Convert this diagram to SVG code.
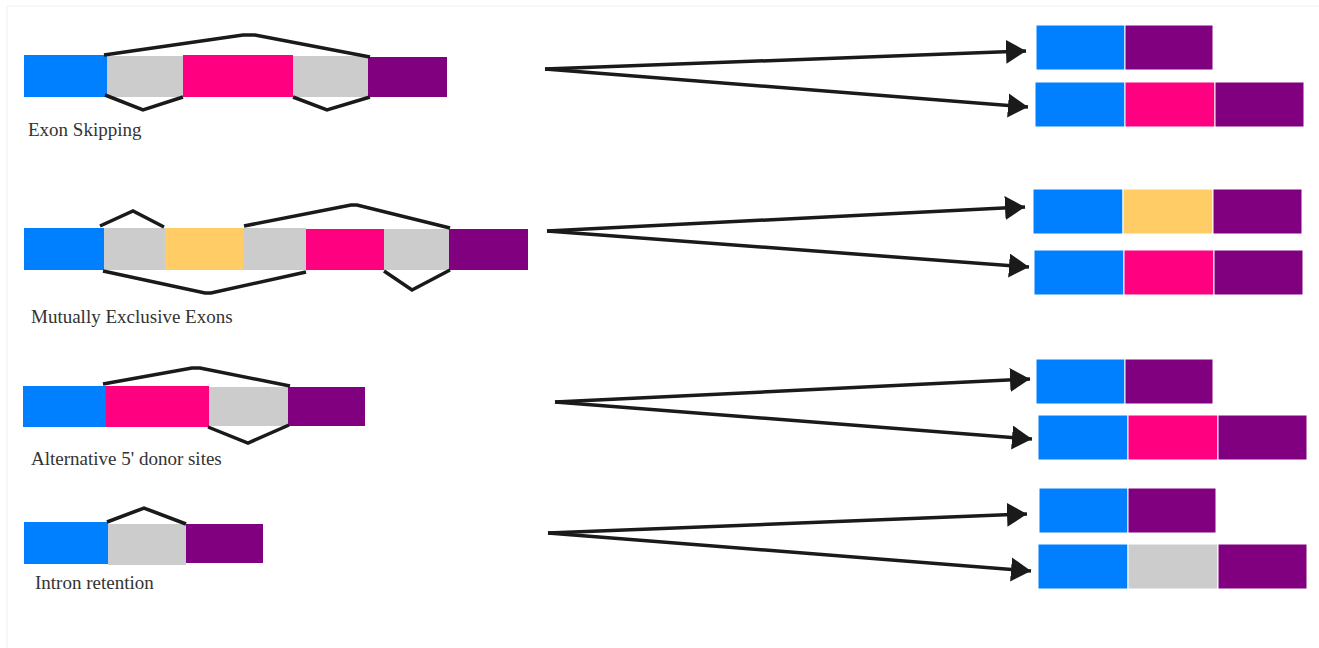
<svg xmlns="http://www.w3.org/2000/svg" width="1319" height="648" viewBox="0 0 1319 648">
<defs>
<style>
.b{fill:#0080ff}.g{fill:#cccccc}.p{fill:#ff0080}.v{fill:#800080}.y{fill:#ffcc66}
.j{fill:none;stroke:#1a1a1a;stroke-width:3.5;stroke-linejoin:miter}
.a{fill:none;stroke:#1a1a1a;stroke-width:3.5}
.t{font-family:"Liberation Serif","Times New Roman",serif;font-size:19px;fill:#333333}
.s{stroke:#ffffff;stroke-width:1}
</style>
<marker id="ah" markerUnits="userSpaceOnUse" markerWidth="22" markerHeight="26" refX="20" refY="12" orient="auto" viewBox="0 0 22 26">
<path d="M0,0 L20,12 L0,24 Z" fill="#1a1a1a"/>
</marker>
</defs>
<rect width="1319" height="648" fill="#ffffff"/>
<path d="M7,648 V6 H1319" fill="none" stroke="#f0f0f0" stroke-width="1"/>

<g id="exon-skipping">
<rect class="b" x="24" y="55" width="83" height="42"/>
<rect class="g" x="107" y="56" width="76" height="41"/>
<rect class="p" x="183" y="55" width="110" height="42"/>
<rect class="g" x="293" y="56" width="75" height="41"/>
<rect class="v" x="368" y="57" width="79" height="40"/>
<polyline class="j" points="104,55 243,35 255,35 370,57"/>
<polyline class="j" points="105,95 143,110 183,97"/>
<polyline class="j" points="293,97 327,110 370,97"/>
<text class="t" x="28" y="136">Exon Skipping</text>
</g>

<g id="mutually-exclusive">
<rect class="b" x="24" y="228" width="80" height="42"/>
<rect class="g" x="104" y="228" width="61" height="42"/>
<rect class="y" x="165" y="228" width="78" height="42"/>
<rect class="g" x="243" y="228" width="63" height="42"/>
<rect class="p" x="306" y="229" width="78" height="41"/>
<rect class="g" x="384" y="229" width="65" height="41"/>
<rect class="v" x="449" y="229" width="79" height="41"/>
<polyline class="j" points="100,226 133,211 164,227"/>
<polyline class="j" points="244,226 351,205 357,205 450,228"/>
<polyline class="j" points="103,271 205,293 211,293 306,272"/>
<polyline class="j" points="384,271 412,290 450,270"/>
<text class="t" x="31" y="323">Mutually Exclusive Exons</text>
</g>

<g id="alt-5-donor">
<rect class="b" x="23" y="386" width="83" height="41"/>
<rect class="p" x="106" y="386" width="103" height="41"/>
<rect class="g" x="209" y="387" width="79" height="39"/>
<rect class="v" x="288" y="387" width="77" height="39"/>
<polyline class="j" points="103,384 192,368 200,368 290,386"/>
<polyline class="j" points="208,427 248,443 289,425"/>
<text class="t" x="31" y="465">Alternative 5' donor sites</text>
</g>

<g id="intron-retention">
<rect class="b" x="24" y="522" width="84" height="42"/>
<rect class="g" x="108" y="524" width="78" height="41"/>
<rect class="v" x="186" y="524" width="77" height="39"/>
<polyline class="j" points="107,522 144,508 186,524"/>
<text class="t" x="35" y="589">Intron retention</text>
</g>

<g id="out-1a"><rect class="b s" x="1036" y="25" width="89" height="45"/><rect class="v s" x="1125" y="25" width="88" height="45"/></g>
<g id="out-1b"><rect class="b s" x="1035" y="82" width="90" height="45"/><rect class="p s" x="1125" y="82" width="90" height="45"/><rect class="v s" x="1215" y="82" width="89" height="45"/></g>
<g id="out-2a"><rect class="b s" x="1033" y="189" width="90" height="45"/><rect class="y s" x="1123" y="189" width="90" height="45"/><rect class="v s" x="1213" y="189" width="89" height="45"/></g>
<g id="out-2b"><rect class="b s" x="1034" y="250" width="90" height="45"/><rect class="p s" x="1124" y="250" width="90" height="45"/><rect class="v s" x="1214" y="250" width="89" height="45"/></g>
<g id="out-3a"><rect class="b s" x="1036" y="359" width="89" height="45"/><rect class="v s" x="1125" y="359" width="88" height="45"/></g>
<g id="out-3b"><rect class="b s" x="1038" y="415" width="90" height="45"/><rect class="p s" x="1128" y="415" width="90" height="45"/><rect class="v s" x="1218" y="415" width="89" height="45"/></g>
<g id="out-4a"><rect class="b s" x="1039" y="488" width="89" height="45"/><rect class="v s" x="1128" y="488" width="88" height="45"/></g>
<g id="out-4b"><rect class="b s" x="1038" y="544" width="90" height="45"/><rect class="g s" x="1128" y="544" width="90" height="45"/><rect class="v s" x="1218" y="544" width="89" height="45"/></g>

<g id="connectors">
<line class="a" x1="545" y1="69" x2="1026" y2="51" marker-end="url(#ah)"/>
<line class="a" x1="545" y1="69" x2="1028" y2="107" marker-end="url(#ah)"/>
<line class="a" x1="547" y1="231" x2="1025" y2="207" marker-end="url(#ah)"/>
<line class="a" x1="547" y1="231" x2="1029" y2="267" marker-end="url(#ah)"/>
<line class="a" x1="555" y1="402" x2="1030" y2="379" marker-end="url(#ah)"/>
<line class="a" x1="555" y1="402" x2="1032" y2="439" marker-end="url(#ah)"/>
<line class="a" x1="548" y1="533" x2="1027" y2="514" marker-end="url(#ah)"/>
<line class="a" x1="548" y1="533" x2="1031" y2="571" marker-end="url(#ah)"/>
</g>
</svg>
